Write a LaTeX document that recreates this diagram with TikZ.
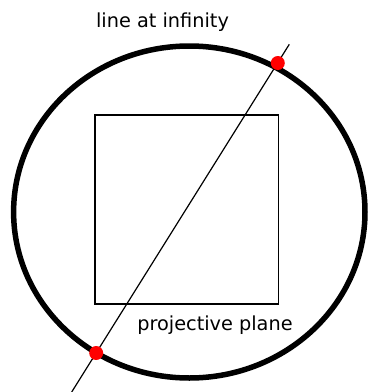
\documentclass[tikz,border=0pt]{standalone}
\usepackage{fontspec}
\setmainfont{DejaVu Sans}
\usetikzlibrary{positioning}

\tikzset{
  reddot/.style={circle, fill=red, inner sep=0pt, minimum size=14pt},
  label/.style={anchor=base, inner sep=0pt, font=\fontsize{19.3}{23}\selectfont}
}

\begin{document}
\begin{tikzpicture}[x=1pt,y=-1pt]
\useasboundingbox (0,0) rectangle (369,392);
% the circle at infinity
\draw[line width=5.5pt] (189.3,212) ellipse [x radius=175.7pt, y radius=166pt];
\node[draw, line width=1.2pt, minimum width=183.3pt, minimum height=189pt, inner sep=0pt] (plane) at (186.7,209.5) {};
% a line through the plane
\coordinate (linetop) at (289.3,44.3);
\coordinate (linebot) at (71.7,392);
\draw[line width=1.2pt] (linebot) -- (linetop);
\node[reddot] (ptop) at (277.8,63) {};
\node[reddot] (pbot) at (96.2,353) {};
\node[label] (infty) at (162.5,27) {line at infinity};
\node[label] (plabel) at (215,330) {projective plane};
\end{tikzpicture}
\end{document}
